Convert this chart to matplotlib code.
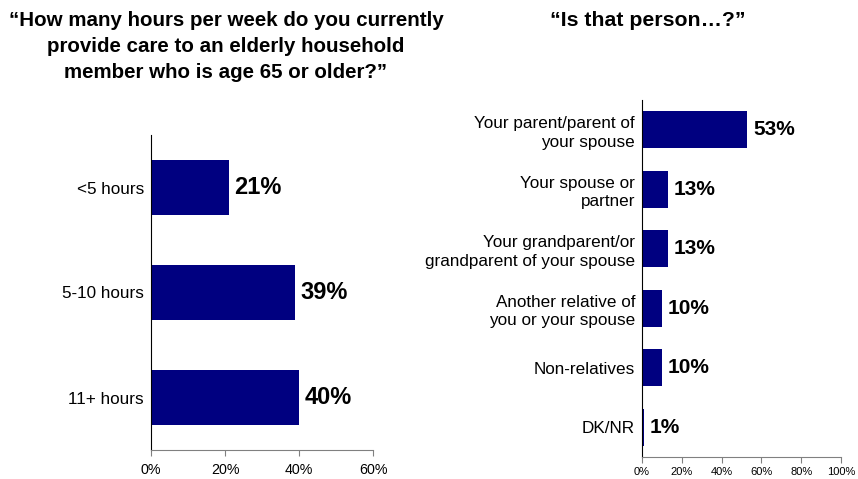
import matplotlib.pyplot as plt
from matplotlib.ticker import PercentFormatter

plt.rcParams['font.family'] = ['Liberation Sans', 'DejaVu Sans']

# hours of care per week
hours_labels = ['<5 hours', '5-10 hours', '11+ hours']
hours_values = [21, 39, 40]

# relationship of the person cared for
rel_labels = ['Your parent/parent of\nyour spouse', 'Your spouse or\npartner',
              'Your grandparent/or\ngrandparent of your spouse',
              'Another relative of\nyou or your spouse', 'Non-relatives', 'DK/NR']
rel_values = [53, 13, 13, 10, 10, 1]

bar_color = '#000080'
W, H = 858, 479

fig = plt.figure(figsize=(W / 100, H / 100), dpi=100)


def box(x0, y0, x1, y1):
    return [x0 / W, 1 - y1 / H, (x1 - x0) / W, (y1 - y0) / H]


def style(ax, xmax, step, tick_size, pad):
    for s in ['top', 'right']:
        ax.spines[s].set_visible(False)
    ax.spines['left'].set_color('black')
    ax.spines['bottom'].set_color('#808080')
    ax.set_xlim(0, xmax)
    ax.set_xticks(range(0, xmax + 1, step))
    ax.xaxis.set_major_formatter(PercentFormatter(decimals=0))
    ax.tick_params(axis='x', colors='#808080', labelcolor='black',
                   labelsize=tick_size, length=4, pad=pad)
    ax.tick_params(axis='y', length=0, labelsize=12.3, pad=5)


ax1 = fig.add_axes(box(151, 135, 373, 450))
ax1.barh(range(len(hours_values)), hours_values, height=0.52, color=bar_color)
ax1.set_yticks(range(len(hours_labels)))
ax1.set_yticklabels(hours_labels)
ax1.set_ylim(len(hours_values) - 0.5, -0.5)
style(ax1, 60, 20, 10.3, 5)
for i, v in enumerate(hours_values):
    ax1.text(v + 1.5, i, f'{v}%', va='center', ha='left',
             fontsize=17, fontweight='bold')

ax2 = fig.add_axes(box(642, 100, 841, 457))
ax2.barh(range(len(rel_values)), rel_values, height=0.62, color=bar_color)
ax2.set_yticks(range(len(rel_labels)))
ax2.set_yticklabels(rel_labels, linespacing=1.3)
ax2.set_ylim(len(rel_values) - 0.5, -0.5)
style(ax2, 100, 20, 8, 3)
for i, v in enumerate(rel_values):
    ax2.text(v + 3, i, f'{v}%', va='center', ha='left',
             fontsize=15, fontweight='bold')

fig.text(226 / W, 1 - 11 / H,
         '\u201cHow many hours per week do you currently\n'
         'provide care to an elderly household\n'
         'member who is age 65 or older?\u201d',
         ha='center', va='top', fontsize=14.8, fontweight='bold',
         linespacing=1.45)
fig.text(648 / W, 1 - 11 / H, '\u201cIs that person\u2026?\u201d',
         ha='center', va='top', fontsize=15.3, fontweight='bold')

fig.savefig('out.png', dpi=100)
